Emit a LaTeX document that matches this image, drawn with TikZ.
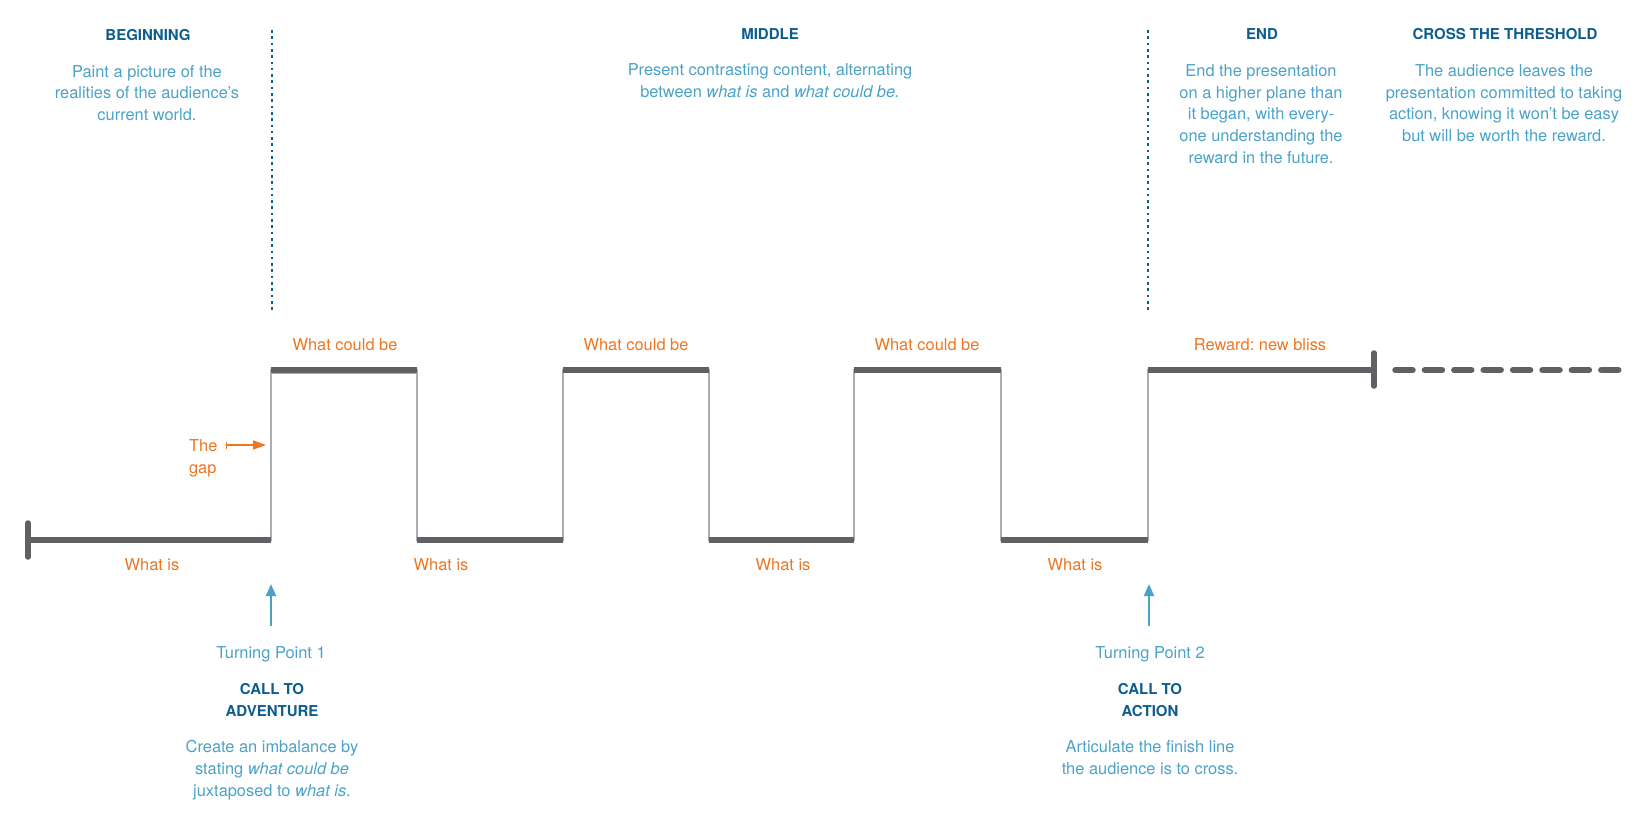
\documentclass[tikz,border=0pt]{standalone}
\usepackage{fontspec}
\setmainfont{TeX Gyre Heros}
\usetikzlibrary{arrows.meta}
\definecolor{hdblue}{RGB}{12,92,140}
\definecolor{ltblue}{RGB}{74,162,201}
\definecolor{orng}{RGB}{236,118,34}
\definecolor{dkgray}{RGB}{96,97,100}
\definecolor{ltgray}{RGB}{172,173,176}
\frenchspacing
\tikzset{
  hdr/.style={font=\fontsize{15}{22}\selectfont\bfseries, text=hdblue, align=center, anchor=base, inner sep=0pt},
  body/.style={font=\fontsize{16.4}{21.8}\selectfont, text=ltblue, align=center, anchor=base, inner sep=0pt},
  lbl/.style={font=\fontsize{16.4}{22}\selectfont, text=orng, anchor=base, inner sep=0pt},
  thinline/.style={draw=ltgray, line width=1.6pt},
  thickline/.style={draw=dkgray, line width=5.5pt},
  endcap/.style={draw=dkgray, line width=5.5pt, line cap=round},
  dashline/.style={draw=dkgray, line width=6.5pt, line cap=round, dash pattern=on 17pt off 12.4pt},
  divider/.style={draw=hdblue, line width=2.7pt, dash pattern=on 2.6pt off 3.7pt},
  tparrow/.style={draw=ltblue, line width=2pt, -{Triangle[length=12pt,width=10pt]}},
  gaparrow/.style={draw=orng, line width=1.4pt, {Bar[width=7pt,line width=1pt]}-{Triangle[length=13pt,width=9pt]}}
}
\begin{document}
\begin{tikzpicture}[x=1pt,y=-1pt]
\useasboundingbox (0,0) rectangle (1652,828);
% step points
\coordinate (p0) at (28,540);
\coordinate (p1) at (271,540);
\coordinate (p2) at (271,370);
\coordinate (p3) at (417,370);
\coordinate (p4) at (417,540);
\coordinate (p5) at (563,540);
\coordinate (p6) at (563,370);
\coordinate (p7) at (709,370);
\coordinate (p8) at (709,540);
\coordinate (p9) at (854,540);
\coordinate (p10) at (854,370);
\coordinate (p11) at (1001,370);
\coordinate (p12) at (1001,540);
\coordinate (p13) at (1148,540);
\coordinate (p14) at (1148,370);
\coordinate (p15) at (1374,370);
% thin step path
\draw[thinline] (p0) -- (p1) -- (p2) -- (p3) -- (p4) -- (p5) -- (p6) -- (p7) -- (p8) -- (p9) -- (p10) -- (p11) -- (p12) -- (p13) -- (p14) -- (p15);
\draw[thinline, line width=1.2pt] ([yshift=-3.2pt]p2) -- ([yshift=-3.2pt]p3);
% thick horizontals
\draw[thickline] (p0) -- (p1);
\draw[thickline] (p2) -- (p3);
\draw[thickline] (p4) -- (p5);
\draw[thickline] (p6) -- (p7);
\draw[thickline] (p8) -- (p9);
\draw[thickline] (p10) -- (p11);
\draw[thickline] (p12) -- (p13);
\draw[thickline] (p14) -- (p15);
% end bars
\coordinate (lb1) at (28,523); \coordinate (lb2) at (28,557);
\draw[endcap] (lb1) -- (lb2);
\coordinate (rb1) at (1374,353); \coordinate (rb2) at (1374,386);
\draw[endcap] (rb1) -- (rb2);
% dashed continuation
\coordinate (d1) at (1395.5,370); \coordinate (d2) at (1620,370);
\draw[dashline] (d1) -- (d2);
% dividers
\coordinate (v1a) at (272,30); \coordinate (v1b) at (272,312);
\coordinate (v2a) at (1148,30); \coordinate (v2b) at (1148,312);
\draw[divider] (v1a) -- (v1b);
\draw[divider] (v2a) -- (v2b);
% headers
\node[hdr] (hbeg) at (148,40.5) {BEGINNING};
\node[hdr] (hmid) at (770,39) {MIDDLE};
\node[hdr] (hend) at (1262,39) {END};
\node[hdr] (hcross) at (1505,39) {CROSS THE THRESHOLD};
% body texts (anchor = baseline of last line)
\node[body] (tbeg) at (147,120.6) {Paint a picture of the\\realities of the audience’s\\current world.};
\node[body] (tmid) at (770,97.5) {Present contrasting content, alternating\\between \textit{what is} and \textit{what could be.}};
\node[body] (tend) at (1261,163.4) {End the presentation\\on a higher plane than\\it began, with every-\\one understanding the\\reward in the future.};
\node[body] (tcross) at (1504,141.6) {The audience leaves the\\presentation committed to taking\\action, knowing it won’t be easy\\but will be worth the reward.};
% orange labels
\node[lbl] (wcb1) at (345,350) {What could be};
\node[lbl] (wcb2) at (636,350) {What could be};
\node[lbl] (wcb3) at (927,350) {What could be};
\node[lbl] (rew) at (1260,350) {Reward: new bliss};
\node[lbl] (wi1) at (152,570) {What is};
\node[lbl] (wi2) at (441,570) {What is};
\node[lbl] (wi3) at (783,570) {What is};
\node[lbl] (wi4) at (1075,570) {What is};
\node[lbl, anchor=base west, align=left] (gap) at (189,473) {The\\gap};
\coordinate (g1) at (226,445); \coordinate (g2) at (266,445);
\draw[gaparrow] (g1) -- (g2);
% turning points
\coordinate (a1s) at (271,626); \coordinate (a1e) at (271,584);
\draw[tparrow] (a1s) -- (a1e);
\coordinate (a2s) at (1149,626); \coordinate (a2e) at (1149,584);
\draw[tparrow] (a2s) -- (a2e);
\node[body] (tp1) at (271,658) {Turning Point 1};
\node[hdr] (cta1) at (272,716) {CALL TO\\ADVENTURE};
\node[body] (tp1t) at (272,796.2) {Create an imbalance by\\stating \textit{what could be}\\juxtaposed to \textit{what is}.};
\node[body] (tp2) at (1150,658) {Turning Point 2};
\node[hdr] (cta2) at (1150,716) {CALL TO\\ACTION};
\node[body] (tp2t) at (1150,774.3) {Articulate the finish line\\the audience is to cross.};
\end{tikzpicture}
\end{document}
